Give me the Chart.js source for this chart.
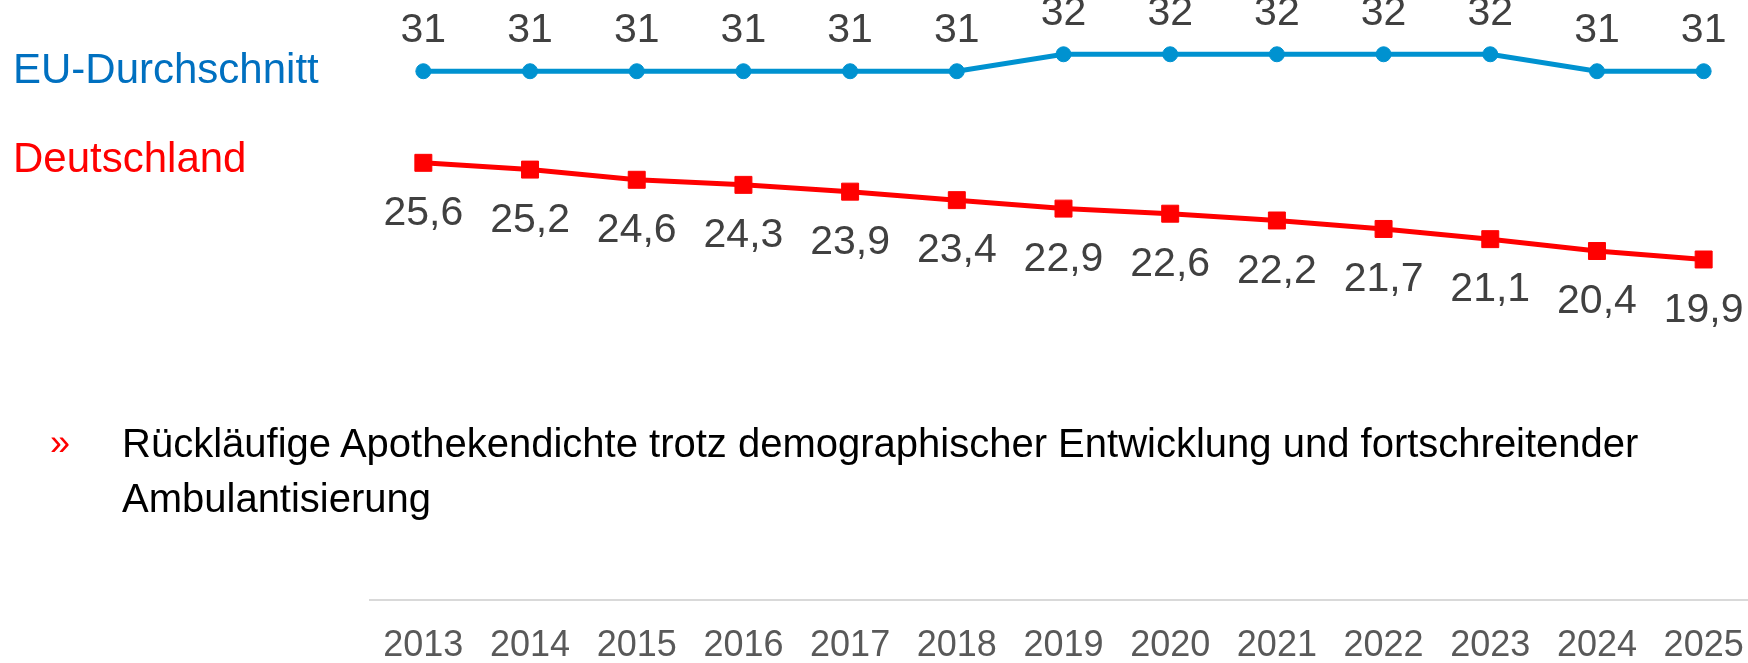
<!DOCTYPE html>
<html lang="de">
<head>
<meta charset="utf-8">
<script src="https://cdn.jsdelivr.net/npm/chart.js@4.4.1/dist/chart.umd.min.js"></script>
<style>
  html, body {
    margin: 0;
    padding: 0;
    background: #fff;
  }
  body {
    width: 1748px;
    height: 663px;
    overflow: hidden;
    position: relative;
    font-family: "Liberation Sans", Arial, sans-serif;
  }
  #chartBox {
    position: absolute;
    left: 0;
    top: 0;
    width: 1780px;
    height: 663px;
  }
  .series-label {
    position: absolute;
    left: 13px;
    font-size: 42px;
    line-height: 42px;
    white-space: nowrap;
  }
  #euLabel { top: 48px; color: #0070C0; }
  #deLabel { top: 137px; color: #FF0000; }
  .bullet {
    position: absolute;
    left: 50px;
    top: 416px;
    font-size: 36px;
    line-height: 54.6px;
    color: #FF0000;
  }
  .note {
    position: absolute;
    left: 122px;
    top: 416px;
    width: 1600px;
    font-size: 40px;
    line-height: 54.6px;
    color: #000;
  }
</style>
</head>
<body>
<div id="chartBox"><canvas id="densityChart" width="1780" height="663"></canvas></div>
<div class="series-label" id="euLabel">EU-Durchschnitt</div>
<div class="series-label" id="deLabel">Deutschland</div>
<div class="bullet">»</div>
<div class="note">Rückläufige Apothekendichte trotz demographischer Entwicklung und fortschreitender<br>Ambulantisierung</div>

<script>
// Apotheken je 100.000 Einwohner
const densityData = {
    labels: ['2013', '2014', '2015', '2016', '2017', '2018', '2019', '2020', '2021', '2022', '2023', '2024', '2025'],
    datasets: [{
        label: 'EU-Durchschnitt',
        data: [31, 31, 31, 31, 31, 31, 32, 32, 32, 32, 32, 31, 31],
        borderColor: '#0092D0',
        backgroundColor: '#0092D0',
        borderWidth: 5,
        pointStyle: 'circle',
        pointRadius: 7.5,
        pointBorderWidth: 1,
        labelOffset: -41,
    }, {
        label: 'Deutschland',
        data: [25.6, 25.2, 24.6, 24.3, 23.9, 23.4, 22.9, 22.6, 22.2, 21.7, 21.1, 20.4, 19.9],
        borderColor: '#FF0000',
        backgroundColor: '#FF0000',
        borderWidth: 5,
        pointStyle: 'rect',
        pointRadius: 12,
        pointBorderWidth: 1,
        labelOffset: 51,
    }]
};

// value labels above / below the points
const valueLabels = {
    id: 'valueLabels',
    afterDatasetsDraw(chart) {
        const c = chart.ctx;
        c.save();
        c.font = '41px "Liberation Sans", Arial, sans-serif';
        c.fillStyle = '#404040';
        c.textAlign = 'center';
        c.textBaseline = 'middle';
        chart.data.datasets.forEach((ds, i) => {
            chart.getDatasetMeta(i).data.forEach((pt, j) => {
                const txt = String(ds.data[j]).replace('.', ',');
                c.fillText(txt, pt.x, pt.y + ds.labelOffset);
            });
        });
        c.restore();
    }
};

const ctx = document.getElementById('densityChart').getContext('2d');
new Chart(ctx, {
    type: 'line',
    data: densityData,
    plugins: [valueLabels],
    options: {
        responsive: false,
        animation: false,
        layout: {
            autoPadding: false,
            // plot area runs from x=370 to x=1757 (cut by the window edge)
            padding: { left: 370, right: 23, top: 0, bottom: 0 }
        },
        plugins: {
            legend: { display: false },
            tooltip: { enabled: false }
        },
        scales: {
            x: {
                offset: true,
                grid: { display: false, drawTicks: false },
                border: { display: true, color: '#D9D9D9', width: 2 },
                ticks: {
                    color: '#595959',
                    padding: 24,
                    font: { family: '"Liberation Sans", Arial, sans-serif', size: 36 }
                },
                afterFit: (scale) => { scale.height = 62.6; }
            },
            y: {
                display: false,
                min: -0.2,
                max: 35.2
            }
        }
    }
});
</script>
</body>
</html>
